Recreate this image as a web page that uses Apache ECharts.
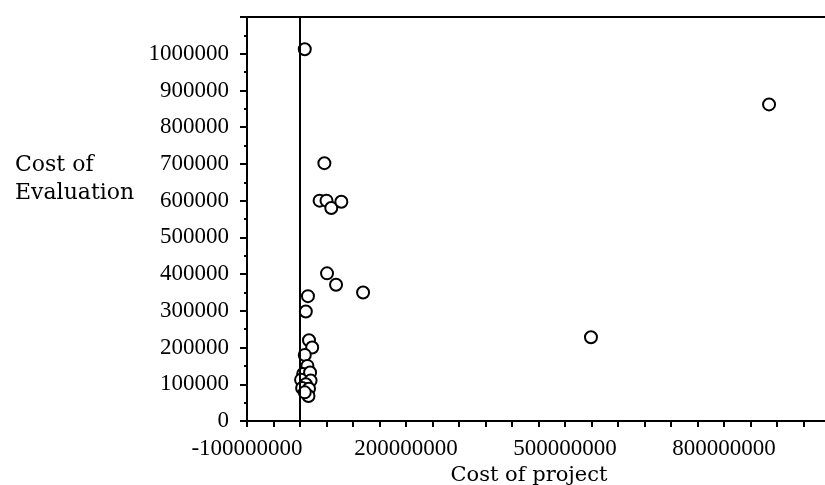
<!DOCTYPE html>
<html>
<head>
<meta charset="utf-8">
<script src="https://cdn.jsdelivr.net/npm/echarts@6/dist/echarts.min.js"></script>
<style>html,body{margin:0;padding:0;background:#fff}#c{width:825px;height:485px}</style>
</head>
<body>
<div id="c"></div>
<script>
// Cost of project (x) and Cost of Evaluation (y)
const projectCost = [
  9000000, 885000000, 46000000, 37000000, 50000000, 59000000, 78000000,
  51000000, 68000000, 119000000, 549000000, 15000000, 11000000, 17000000,
  23000000, 9000000, 14000000, 6000000, 19000000, 2000000, 20000000,
  11000000, 4000000, 17000000, 16000000, 9000000
];
const evaluationCost = [
  1012000, 862000, 702000, 600000, 600000, 580000, 597000,
  402000, 371000, 350000, 228000, 340000, 298000, 220000,
  200000, 180000, 150000, 128000, 132000, 112000, 110000,
  100000, 90000, 88000, 68000, 78000
];
const xTickLabels = [-100000000, 200000000, 500000000, 800000000];
const yTickLabels = [0, 100000, 200000, 300000, 400000, 500000, 600000, 700000, 800000, 900000, 1000000];
const zeroLine = 0;

const points = projectCost.map((x, i) => [x, evaluationCost[i]]);
const serif = '"Liberation Serif", serif';
const titleFont = '"DejaVu Serif", serif';

const chart = echarts.init(document.getElementById('c'), null, {renderer: 'canvas'});
chart.setOption({
  animation: false,
  backgroundColor: '#fff',
  title: {
    text: 'Cost of\nEvaluation',
    left: 10, top: 146,
    textStyle: {fontFamily: titleFont, fontSize: 22, fontWeight: 'normal', color: '#000', lineHeight: 28}
  },
  grid: {
    left: 247, width: 583, top: 17, bottom: 64,
    show: false, containLabel: false, outerBoundsMode: 'none'
  },
  xAxis: [{
    type: 'value',
    min: -100000000, max: 1000000000, interval: 50000000,
    name: 'Cost of project',
    nameLocation: 'middle', nameGap: 30,
    nameTextStyle: {fontFamily: titleFont, fontSize: 21, color: '#000', padding: [0, 19, 0, 0]},
    axisLine: {show: true, onZero: false, lineStyle: {color: '#000', width: 2}},
    axisTick: {show: true, inside: false, length: 6, lineStyle: {color: '#000', width: 2}},
    splitLine: {show: false},
    axisLabel: {
      margin: 16, interval: 0, hideOverlap: false,
      fontFamily: serif, fontSize: 23, color: '#000',
      formatter: v => xTickLabels.includes(v) ? String(v) : ''
    }
  }, {
    type: 'value', position: 'top',
    min: -100000000, max: 1000000000, interval: 50000000,
    axisLine: {show: true, onZero: false, lineStyle: {color: '#000', width: 2}},
    axisTick: {show: false}, axisLabel: {show: false}, splitLine: {show: false}
  }],
  yAxis: {
    type: 'value',
    min: 0, max: 1100000, interval: 100000,
    axisLine: {show: true, onZero: false, lineStyle: {color: '#000', width: 2}},
    axisTick: {show: true, length: 7, lineStyle: {color: '#000', width: 2}},
    minorTick: {show: true, splitNumber: 2, length: 3, lineStyle: {color: '#000', width: 2}},
    splitLine: {show: false},
    axisLabel: {
      margin: 18, fontFamily: serif, fontSize: 23, color: '#000',
      formatter: v => yTickLabels.includes(v) ? String(v) : ''
    }
  },
  series: [{
    type: 'scatter',
    xAxisIndex: 0,
    data: points,
    symbol: 'circle',
    symbolSize: 12,
    itemStyle: {color: '#fff', borderColor: '#000', borderWidth: 2, opacity: 1},
    markLine: {
      silent: true, symbol: 'none',
      label: {show: false},
      lineStyle: {color: '#000', width: 2, type: 'solid'},
      data: [{xAxis: zeroLine}]
    }
  }]
});
</script>
</body>
</html>
